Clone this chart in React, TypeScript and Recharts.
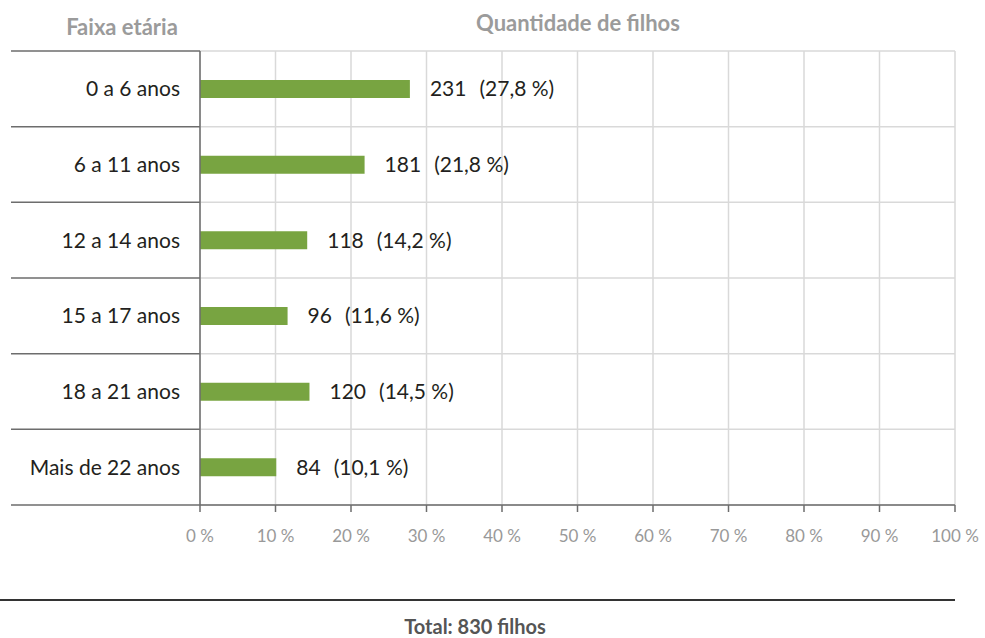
import React from "react";
import {
  BarChart,
  Bar,
  XAxis,
  YAxis,
  CartesianGrid,
  LabelList,
} from "recharts";

const faixas = [
  "0 a 6 anos",
  "6 a 11 anos",
  "12 a 14 anos",
  "15 a 17 anos",
  "18 a 21 anos",
  "Mais de 22 anos",
];
const filhos = [231, 181, 118, 96, 120, 84];
const percentuais = [27.8, 21.8, 14.2, 11.6, 14.5, 10.1];
const xTicks = [0, 10, 20, 30, 40, 50, 60, 70, 80, 90, 100];

const FONT = "Lato, 'Open Sans', sans-serif";
const W = 985;
const H = 638;
const TOP = 51;
const PLOT_BOTTOM = 505;
const BAND = (PLOT_BOTTOM - TOP) / faixas.length;

const data = faixas.map((f, i) => ({
  faixa: f,
  pct: percentuais[i],
  qtd: filhos[i],
}));

const fmt = (v: number) => v.toFixed(1).replace(".", ",");

function FaixaTick(props: any) {
  const { x, y, payload, index } = props;
  return (
    <g>
      <line x1={11} x2={200} y1={y - BAND / 2} y2={y - BAND / 2} stroke="#6d6d6d" strokeWidth={1.5} />
      {index === faixas.length - 1 && (
        <line x1={11} x2={200} y1={y + BAND / 2} y2={y + BAND / 2} stroke="#6d6d6d" strokeWidth={1.5} />
      )}
      <text x={x} y={y} dy="0.35em" textAnchor="end" fontSize={21} fill="#231f20" fontFamily={FONT}>
        {payload.value}
      </text>
    </g>
  );
}

function ValorLabel(props: any) {
  const { x, y, width, height, index } = props;
  return (
    <text
      x={x + width + 20}
      y={y + height / 2}
      dy="0.35em"
      fontSize={21}
      fill="#231f20"
      fontFamily={FONT}
    >
      <tspan>{filhos[index]}</tspan>
      <tspan dx={13}>({fmt(percentuais[index])} %)</tspan>
    </text>
  );
}

export default function App() {
  return (
    <div style={{ position: "absolute", left: 0, top: 0, width: W, height: H, background: "#fff", fontFamily: FONT }}>
      <div style={{ position: "absolute", left: 0, width: 244, top: 13, textAlign: "center", fontWeight: 700, fontSize: 22, lineHeight: "28px", color: "#9b9b9b" }}>
        Faixa etária
      </div>
      <div style={{ position: "absolute", left: 378, width: 400, top: 9, textAlign: "center", fontWeight: 700, fontSize: 22, lineHeight: "28px", color: "#9b9b9b" }}>
        Quantidade de filhos
      </div>

      <BarChart
        width={W}
        height={H}
        data={data}
        layout="vertical"
        margin={{ top: TOP, right: 30, bottom: H - PLOT_BOTTOM - 30, left: 10 }}
      >
        <CartesianGrid
          stroke="#d9d9d9"
          strokeWidth={1.5}
          horizontalCoordinatesGenerator={({ offset }: any) =>
            faixas.map((_, i) => offset.top + (i * offset.height) / faixas.length).concat(offset.top + offset.height)
          }
        />
        <XAxis
          type="number"
          domain={[0, 100]}
          ticks={xTicks}
          interval={0}
          height={30}
          tickFormatter={(v: number) => `${v} %`}
          axisLine={{ stroke: "#6d6d6d", strokeWidth: 1.5 }}
          tickLine={{ stroke: "#6d6d6d", strokeWidth: 1.5 }}
          tickSize={7}
          tickMargin={18}
          tick={{ fill: "#999999", fontSize: 17, fontFamily: FONT }}
        />
        <YAxis
          type="category"
          dataKey="faixa"
          width={190}
          tickLine={false}
          tickSize={0}
          tickMargin={20}
          interval={0}
          axisLine={{ stroke: "#6d6d6d", strokeWidth: 1.5 }}
          tick={<FaixaTick />}
        />
        <Bar dataKey="pct" fill="#78a441" barSize={18} isAnimationActive={false}>
          <LabelList dataKey="qtd" content={<ValorLabel />} />
        </Bar>
      </BarChart>

      <div style={{ position: "absolute", left: 0, top: 599, width: 955, height: 2, background: "#333" }} />
      <div style={{ position: "absolute", left: 275, width: 400, top: 614, textAlign: "center", fontWeight: 700, fontSize: 20, lineHeight: "24px", color: "#555" }}>
        Total: 830 filhos
      </div>
    </div>
  );
}
